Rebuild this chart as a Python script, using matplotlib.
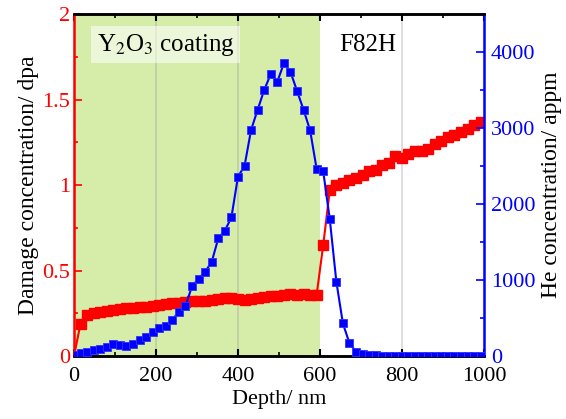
import matplotlib.pyplot as plt
import numpy as np
from matplotlib.ticker import MultipleLocator

plt.rcParams["font.family"] = ["Liberation Serif", "DejaVu Serif"]
plt.rcParams["mathtext.fontset"] = "stix"

# depth grid (nm), shared by both series
depth = [0, 16, 32, 48, 64, 80, 96, 112, 128, 144, 160, 176, 192, 208, 224,
         240, 256, 272, 288, 304, 320, 336, 352, 368, 384, 400, 416, 432, 448,
         464, 480, 496, 512, 528, 544, 560, 576, 592, 608, 624, 640, 656, 672,
         688, 704, 720, 736, 752, 768, 784, 800, 816, 832, 848, 864, 880, 896,
         912, 928, 944, 960, 976, 992]

# damage (dpa)
dpa = [0.00, 0.19, 0.24, 0.255, 0.26, 0.265, 0.27, 0.275, 0.28, 0.28, 0.285,
       0.29, 0.295, 0.30, 0.305, 0.31, 0.31, 0.315, 0.32, 0.32, 0.325, 0.33,
       0.335, 0.34, 0.34, 0.335, 0.33, 0.335, 0.34, 0.345, 0.35, 0.35, 0.36,
       0.365, 0.36, 0.365, 0.36, 0.36, 0.65, 0.97, 1.00, 1.01, 1.03, 1.04,
       1.06, 1.08, 1.09, 1.12, 1.13, 1.17, 1.16, 1.18, 1.20, 1.20, 1.21, 1.24,
       1.26, 1.28, 1.29, 1.31, 1.33, 1.35, 1.37]

# helium (appm)
he = [20, 40, 60, 80, 100, 120, 165, 150, 135, 160, 210, 255, 320, 375, 395,
      480, 585, 660, 920, 1020, 1110, 1240, 1550, 1650, 1825, 2360, 2500,
      2975, 3240, 3500, 3710, 3610, 3850, 3740, 3490, 3240, 2970, 2460, 2430,
      1800, 980, 430, 170, 60, 25, 15, 10, 8, 6, 5, 5, 4, 4, 3, 3, 3, 2, 2,
      2, 1, 1, 1, 1]

coating_end = 600

fig = plt.figure(figsize=(5.66, 4.19), dpi=100)
ax = fig.add_axes([0.1307, 0.150, 0.7243, 0.8166])
ax2 = ax.twinx()

ax.axvspan(0, coating_end, color="#d6edaa", zorder=0, lw=0)
for xv in [200, 400, 800]:
    ax.axvline(xv, color="#909090", alpha=0.35, lw=1.2, zorder=0.5)

ax.plot(depth, dpa, color="red", marker="s", ms=7, lw=1.5, zorder=3)
ax2.plot(depth, he, color="blue", marker="s", ms=6, lw=1.5,
         markeredgecolor="#3030ff", markeredgewidth=0.6, zorder=3)

ax.set_xlim(0, 1000)
ax.set_ylim(0, 2)
ax2.set_ylim(0, 4500)

ax.xaxis.set_major_locator(MultipleLocator(200))
ax.xaxis.set_minor_locator(MultipleLocator(100))
ax.yaxis.set_major_locator(MultipleLocator(0.5))
ax.yaxis.set_minor_locator(MultipleLocator(0.25))
ax2.yaxis.set_major_locator(MultipleLocator(1000))
ax2.yaxis.set_minor_locator(MultipleLocator(500))
ax.set_yticks([0, 0.5, 1, 1.5, 2])
ax.set_yticklabels(["0", "0.5", "1", "1.5", "2"])

ax.tick_params(axis="x", which="both", direction="in", top=True,
               labelsize=16, colors="black", pad=8)
ax.tick_params(axis="x", which="major", length=5, width=1.5)
ax.tick_params(axis="x", which="minor", length=3, width=1.2)
ax.tick_params(axis="y", which="both", direction="in", colors="red",
               labelsize=16, width=1.2, pad=3)
ax.tick_params(axis="y", which="major", length=6)
ax.tick_params(axis="y", which="minor", length=3)
ax2.tick_params(axis="y", which="both", direction="in", colors="blue",
                labelsize=16, width=1.2, pad=5)
ax2.tick_params(axis="y", which="major", length=6)
ax2.tick_params(axis="y", which="minor", length=3)

for s in ["top", "bottom"]:
    ax.spines[s].set_linewidth(1.8)
    ax2.spines[s].set_linewidth(1.8)
ax2.spines["left"].set_color("red")
ax2.spines["left"].set_linewidth(1.8)
ax2.spines["right"].set_color("blue")
ax2.spines["right"].set_linewidth(1.8)

ax.set_xlabel("Depth/ nm", fontsize=16, labelpad=3)
ax.set_ylabel("Damage concentration/ dpa", fontsize=17, labelpad=2)
ax2.set_ylabel("He concentration/ appm", fontsize=17, labelpad=4)

ax.text(55, 1.82, r"Y$_2$O$_3$ coating", fontsize=18, va="center",
        bbox=dict(facecolor="white", alpha=0.55, edgecolor="none", pad=4))
ax.text(648, 1.82, "F82H", fontsize=18, va="center")

fig.savefig("out.png", dpi=100)
